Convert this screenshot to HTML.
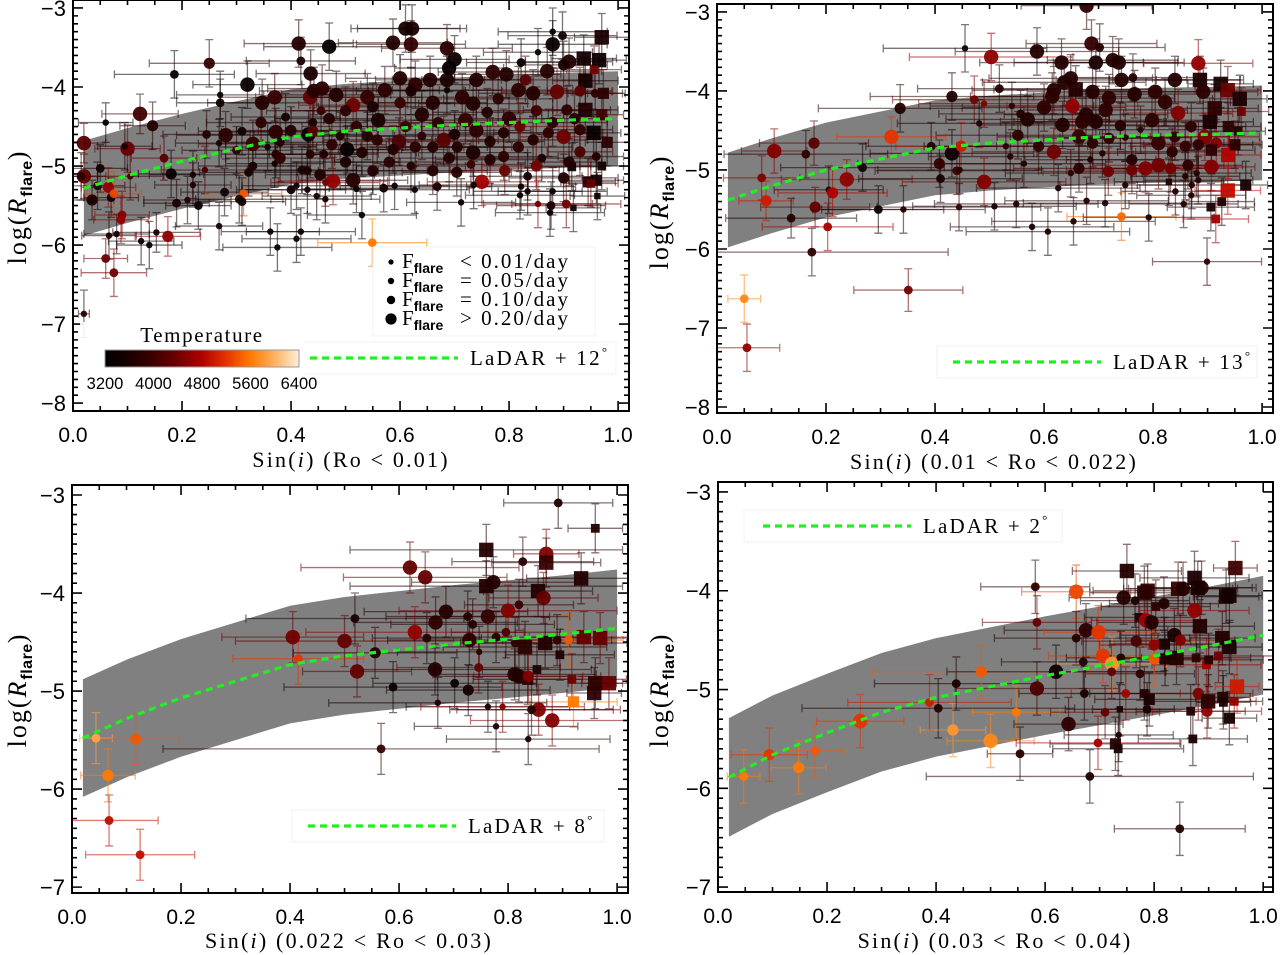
<!DOCTYPE html>
<html><head><meta charset="utf-8"><style>
html,body{margin:0;padding:0;background:#fff;}
svg{display:block;}
</style></head><body>
<svg id="fig" width="1280" height="955" viewBox="0 0 1280 955" xmlns="http://www.w3.org/2000/svg"></svg>
<script>
// ---------- DATA ----------
// point format: [sin_i, logR, x_err, y_err, Teff, sizeClass, isSquare]
const p1Pts = [
[0.02,-4.71,0.04,0.25,4200,3,0],[0.02,-5.13,0.04,0.28,4300,3,0],[0.015,-5.13,0.03,0.3,3800,1,0],[0.035,-5.43,0.04,0.25,3600,2,0],
[0.05,-5.03,0.05,0.3,3400,1,0],[0.06,-4.45,0.05,0.25,3300,0,0],[0.045,-5.25,0.05,0.3,3700,1,0],[0.065,-5.27,0.05,0.25,4600,2,0],
[0.07,-5.4,0.05,0.25,3500,1,0],[0.075,-5.35,0.05,0.28,5300,1,0],[0.066,-5.88,0.05,0.3,3600,0,0],[0.08,-5.86,0.06,0.25,3500,0,0],
[0.06,-6.17,0.04,0.25,4300,1,0],[0.075,-6.35,0.06,0.3,4400,1,0],[0.02,-6.87,0.01,0.3,3700,0,0],[0.09,-5.62,0.05,0.3,4500,1,0],
[0.088,-5.68,0.05,0.3,4600,1,0],[0.1,-4.78,0.06,0.3,4300,3,0],[0.095,-4.75,0.05,0.3,3500,0,0],[0.105,-5.13,0.06,0.3,4000,0,0],
[0.123,-4.34,0.07,0.25,4000,3,0],[0.125,-5.95,0.06,0.3,3400,0,0],[0.14,-6.0,0.06,0.3,3300,0,0],[0.146,-4.49,0.06,0.3,3700,2,0],
[0.153,-5.84,0.08,0.25,3500,0,0],[0.167,-4.9,0.06,0.28,4200,1,0],[0.174,-5.89,0.06,0.25,4600,2,0],[0.18,-5.1,0.06,0.3,3300,2,0],
[0.186,-3.84,0.11,0.3,3300,1,0],[0.19,-5.47,0.06,0.3,3600,1,0],[0.21,-5.43,0.08,0.3,3700,0,0],[0.22,-5.11,0.08,0.3,3500,0,0],
[0.22,-5.24,0.07,0.28,3700,0,0],[0.23,-5.5,0.06,0.3,3400,1,0],[0.242,-5.05,0.08,0.3,4100,0,0],[0.25,-3.7,0.11,0.3,3900,2,0],
[0.245,-4.6,0.08,0.3,3700,1,0],[0.268,-5.76,0.08,0.3,3500,0,0],[0.27,-4.2,0.08,0.3,3400,1,0],[0.27,-4.1,0.08,0.3,3400,0,0],
[0.278,-5.33,0.08,0.3,3500,1,0],[0.28,-4.61,0.09,0.3,3800,3,0],[0.268,-4.71,0.08,0.3,3600,0,0],[0.31,-4.56,0.08,0.3,3500,1,0],
[0.32,-3.97,0.1,0.3,3300,3,0],[0.313,-5.35,0.07,0.28,5400,1,0],[0.305,-5.42,0.08,0.3,3600,1,0],[0.31,-5.45,0.08,0.3,3500,1,0],
[0.322,-5.08,0.09,0.3,3500,1,0],[0.33,-4.72,0.1,0.3,3900,3,0],[0.347,-4.2,0.1,0.3,3700,3,0],[0.357,-4.76,0.09,0.3,3400,0,0],
[0.362,-5.83,0.09,0.3,3400,0,0],[0.37,-4.97,0.09,0.3,3400,0,0],[0.375,-6.03,0.1,0.3,3300,0,0],[0.37,-4.13,0.1,0.3,3900,3,0],
[0.372,-4.57,0.1,0.3,3800,3,0],[0.372,-4.85,0.1,0.3,3700,1,0],[0.38,-4.7,0.1,0.3,3600,1,0],[0.39,-4.38,0.1,0.3,3500,1,0],
[0.414,-3.45,0.1,0.3,3700,3,0],[0.418,-3.67,0.1,0.3,3600,1,0],[0.436,-3.83,0.1,0.3,3600,3,0],[0.435,-4.13,0.1,0.3,4300,3,0],
[0.4,-5.3,0.1,0.3,3400,1,0],[0.41,-5.92,0.1,0.3,3300,0,0],[0.418,-5.83,0.1,0.3,3300,0,0],[0.41,-5.25,0.1,0.3,3500,0,0],
[0.42,-5.05,0.1,0.3,3600,1,0],[0.432,-4.6,0.1,0.3,3300,3,0],[0.435,-4.85,0.1,0.3,3700,1,0],[0.44,-4.45,0.1,0.3,3600,1,0],
[0.442,-4.05,0.1,0.3,3700,3,0],[0.447,-5.38,0.1,0.3,3500,0,0],
[0.622,-3.26,0.1,0.3,3500,3,0],[0.61,-3.26,0.1,0.3,3500,3,0],[0.47,-3.49,0.12,0.3,3300,3,0],[0.587,-3.44,0.1,0.3,3700,3,0],
[0.62,-3.46,0.1,0.3,3900,3,0],[0.686,-3.51,0.12,0.3,3800,3,0],[0.7,-3.65,0.1,0.3,3400,3,0],[0.69,-3.76,0.1,0.3,3300,3,0],
[0.88,-3.3,0.1,0.3,3300,0,0],[0.898,-3.35,0.1,0.3,3400,1,0],[0.88,-3.46,0.1,0.3,3300,3,0],[0.853,-3.56,0.1,0.3,3300,0,0],
[0.822,-3.69,0.1,0.3,3300,1,0],[0.97,-3.37,0.05,0.3,3600,3,1],[0.937,-3.64,0.06,0.3,3500,3,1],[0.965,-3.66,0.05,0.3,3400,3,1],
[0.94,-3.92,0.06,0.3,3500,3,1],[0.956,-3.78,0.05,0.3,4400,1,1],[0.91,-3.68,0.08,0.3,3700,3,0],[0.9,-3.72,0.08,0.3,3600,2,0],
[0.87,-3.8,0.1,0.3,3700,3,0],[0.83,-3.91,0.1,0.3,4200,2,0],[0.795,-3.84,0.1,0.3,3700,3,0],[0.77,-3.81,0.1,0.3,3800,3,0],
[0.74,-3.91,0.1,0.3,3700,3,0],[0.686,-3.91,0.1,0.3,3600,3,0],[0.655,-3.91,0.1,0.3,3700,3,0],[0.628,-3.97,0.1,0.3,3800,3,0],
[0.6,-3.89,0.1,0.3,3700,3,0],[0.572,-4.04,0.1,0.3,3800,3,0],[0.54,-4.13,0.1,0.3,3900,3,0],[0.514,-4.23,0.1,0.3,4400,3,0],
[0.483,-4.1,0.1,0.3,3700,3,0],[0.457,-4.02,0.1,0.3,3800,3,0],[0.714,-4.13,0.1,0.3,3800,3,0],[0.734,-4.21,0.1,0.3,3700,3,0],
[0.686,-4.04,0.1,0.3,3400,0,0],[0.817,-4.04,0.1,0.3,3800,3,0],[0.844,-4.08,0.1,0.3,3700,3,0],[0.888,-4.06,0.1,0.3,4300,3,0],
[0.958,-4.08,0.05,0.3,3800,1,0],[0.973,-4.08,0.04,0.3,3800,2,1],[0.94,-4.29,0.06,0.3,3700,3,1],[0.906,-4.29,0.08,0.3,3800,2,0],
[0.955,-4.58,0.05,0.3,3300,3,1],[0.93,-4.54,0.06,0.3,3800,2,0],[0.9,-4.63,0.08,0.3,4400,3,0],[0.872,-4.58,0.1,0.3,3800,2,0],
[0.844,-4.67,0.1,0.3,3700,2,0],[0.817,-4.76,0.1,0.3,3800,2,0],[0.79,-4.58,0.1,0.3,3700,2,0],[0.765,-4.69,0.1,0.3,3700,2,0],
[0.734,-4.83,0.1,0.3,3600,3,0],[0.705,-4.76,0.1,0.3,3700,2,0],[0.68,-4.67,0.1,0.3,4200,3,0],[0.66,-4.76,0.1,0.3,3700,2,0],
[0.628,-4.76,0.1,0.3,3800,2,0],[0.598,-4.69,0.1,0.3,4100,3,0],[0.587,-4.79,0.1,0.3,3700,2,0],[0.558,-4.67,0.1,0.3,3800,2,0],
[0.53,-4.83,0.1,0.3,3700,2,0],[0.503,-4.79,0.1,0.3,3300,3,0],[0.475,-4.73,0.1,0.3,3800,2,0],[0.44,-4.56,0.1,0.3,4200,2,0],
[0.46,-4.85,0.1,0.3,3700,1,0],[0.514,-5.18,0.1,0.3,3700,3,0],[0.477,-5.19,0.1,0.3,4600,3,0],[0.453,-5.11,0.1,0.3,3700,2,0],
[0.43,-5.06,0.1,0.3,3600,1,0],[0.55,-5.06,0.1,0.3,3700,2,0],[0.57,-5.28,0.1,0.3,3500,1,0],[0.59,-5.25,0.1,0.3,3400,0,0],
[0.627,-5.3,0.1,0.3,3400,0,0],[0.66,-5.06,0.1,0.3,3700,2,0],[0.704,-5.08,0.1,0.3,3700,2,0],[0.75,-5.2,0.1,0.3,4700,3,0],
[0.735,-5.24,0.1,0.3,3400,0,0],[0.765,-4.92,0.1,0.3,3700,2,0],[0.792,-5.06,0.1,0.3,4300,2,0],[0.822,-5.26,0.1,0.3,3400,0,0],
[0.834,-5.32,0.1,0.3,3400,0,0],[0.834,-5.13,0.1,0.3,3600,1,0],[0.88,-5.32,0.1,0.3,3300,0,0],[0.9,-5.15,0.1,0.3,3700,2,0],
[0.915,-5.01,0.06,0.3,3400,1,1],[0.945,-5.2,0.05,0.3,3700,2,1],[0.96,-5.18,0.05,0.3,3500,2,1],[0.95,-5.22,0.05,0.3,4300,1,1],
[0.918,-5.53,0.05,0.3,3500,0,1],[0.962,-5.38,0.05,0.3,3500,0,1],[0.875,-5.59,0.1,0.3,3300,0,0],[0.853,-5.48,0.1,0.3,4400,0,0],
[0.905,-5.48,0.1,0.3,4400,1,0],[0.82,-5.37,0.1,0.3,3400,0,0],[0.712,-5.46,0.1,0.3,3300,0,0],[0.668,-5.26,0.1,0.3,3600,1,0],
[0.62,-5.0,0.1,0.3,3700,1,0],[0.52,-5.29,0.1,0.3,3300,0,0],[0.53,-5.62,0.1,0.3,3300,0,0],[0.463,-5.42,0.1,0.3,3400,0,0],
[0.463,-5.21,0.1,0.3,4400,0,0],[0.549,-5.97,0.1,0.3,5600,1,0],[0.877,-5.5,0.1,0.3,3600,1,0],[0.43,-5.3,0.12,0.3,3500,0,0],
[0.52,-4.5,0.1,0.3,3800,2,0],[0.56,-4.42,0.1,0.3,3600,3,0],[0.61,-4.5,0.1,0.3,3900,2,0],[0.64,-4.35,0.1,0.3,3700,3,0],
[0.67,-4.45,0.1,0.3,3800,2,0],[0.72,-4.42,0.1,0.3,3900,3,0],[0.76,-4.32,0.1,0.3,3700,2,0],[0.8,-4.4,0.1,0.3,3800,3,0],
[0.85,-4.3,0.1,0.3,4000,2,0],[0.88,-4.45,0.1,0.3,3800,2,0],[0.92,-4.4,0.06,0.3,3700,2,0],[0.97,-4.35,0.04,0.3,4000,2,1],
[0.98,-4.7,0.04,0.3,3800,2,1],[0.96,-4.88,0.05,0.3,3700,1,0],[0.93,-4.82,0.06,0.3,4100,2,0],[0.86,-4.9,0.1,0.3,3600,1,0],
[0.79,-4.88,0.1,0.3,3800,2,0],[0.73,-4.98,0.1,0.3,4000,1,0],[0.69,-4.9,0.1,0.3,3700,2,0],[0.58,-4.95,0.1,0.3,3800,2,0],
[0.5,-4.95,0.1,0.3,3600,2,0],[0.47,-4.4,0.1,0.3,3700,2,0],[0.5,-4.3,0.1,0.3,3800,2,0],[0.55,-4.25,0.1,0.3,3600,2,0],
[0.6,-4.2,0.1,0.3,3900,2,0],[0.66,-4.2,0.1,0.3,3700,3,0],[0.78,-4.15,0.1,0.3,3800,2,0],[0.82,-4.5,0.1,0.3,4300,2,0],
[0.7,-4.6,0.1,0.3,3600,2,0],[0.64,-4.62,0.1,0.3,3800,1,0],[0.54,-4.62,0.1,0.3,3700,2,0],[0.49,-4.62,0.1,0.3,3700,1,0],
[0.455,-4.3,0.1,0.3,3900,1,0],[0.4,-4.55,0.1,0.3,3700,2,0],[0.38,-4.9,0.1,0.3,3800,2,0],[0.345,-4.45,0.1,0.3,3800,2,0],
[0.3,-4.8,0.1,0.3,3700,1,0],[0.33,-5.0,0.1,0.3,3600,1,0],[0.74,-4.55,0.1,0.3,3800,3,0],[0.91,-4.95,0.06,0.3,3700,2,0],
[0.85,-5.0,0.1,0.3,4400,2,0],[0.97,-5.0,0.04,0.3,3500,1,1],[0.62,-4.05,0.1,0.3,3600,2,0],[0.93,-4.05,0.06,0.3,4200,2,0]
];
const p2Pts = [
[0.05,-6.63,0.03,0.3,5700,1,0],[0.055,-7.25,0.06,0.3,4600,1,0],[0.082,-5.1,0.07,0.28,4500,1,0],[0.09,-5.39,0.05,0.25,5000,2,0],
[0.105,-4.76,0.06,0.28,4500,3,0],[0.163,-4.8,0.15,0.3,3800,1,0],[0.178,-4.66,0.1,0.28,4200,2,0],[0.136,-5.61,0.12,0.25,3700,1,0],
[0.174,-6.04,0.25,0.3,3800,1,0],[0.18,-5.47,0.1,0.25,4300,2,0],[0.205,-5.25,0.1,0.3,3600,0,0],[0.203,-5.72,0.12,0.3,4700,1,0],
[0.212,-5.29,0.1,0.3,4800,2,0],[0.238,-5.12,0.12,0.25,4600,3,0],[0.267,-4.97,0.15,0.3,3500,1,0],[0.296,-5.5,0.12,0.3,3400,1,0],
[0.32,-4.58,0.1,0.25,5200,3,0],[0.336,-4.22,0.15,0.3,3700,2,0],[0.342,-5.5,0.15,0.3,3700,0,0],[0.351,-6.52,0.1,0.27,4400,1,0],
[0.393,-4.7,0.12,0.3,3700,1,0],[0.408,-4.92,0.15,0.3,3900,2,0],[0.41,-5.11,0.15,0.3,3500,1,0],[0.431,-4.07,0.15,0.3,3700,2,0],
[0.431,-4.79,0.15,0.3,3400,3,0],[0.44,-5.01,0.15,0.3,4000,1,0],[0.444,-5.47,0.15,0.3,3900,0,0],[0.448,-4.7,0.12,0.3,5000,2,0],
[0.455,-3.46,0.15,0.3,3500,0,0],[0.503,-3.57,0.15,0.3,4600,3,0],[0.587,-3.5,0.15,0.3,3700,3,0],[0.678,-2.92,0.12,0.3,3800,3,0],
[0.687,-3.4,0.12,0.3,3900,3,0],[0.702,-3.45,0.12,0.3,3700,1,0],[0.632,-3.64,0.15,0.3,3700,3,0],[0.695,-3.64,0.15,0.3,3600,3,0],
[0.726,-3.61,0.12,0.3,3700,3,0],[0.737,-3.64,0.12,0.3,3700,3,0],[0.883,-3.65,0.1,0.3,4600,3,0],[0.518,-3.97,0.15,0.3,3700,1,0],
[0.472,-4.11,0.15,0.3,4400,1,0],[0.49,-4.16,0.12,0.3,4500,0,0],[0.541,-4.19,0.15,0.3,3800,0,0],[0.557,-4.29,0.15,0.3,3700,1,0],
[0.57,-4.36,0.15,0.3,3700,3,0],[0.6,-4.21,0.15,0.3,3800,3,0],[0.618,-3.99,0.15,0.3,3700,3,0],[0.615,-4.07,0.15,0.3,3800,3,0],
[0.637,-3.89,0.15,0.3,3700,3,0],[0.649,-3.84,0.15,0.3,3700,3,0],[0.658,-3.98,0.15,0.3,3700,3,1],[0.652,-4.19,0.12,0.3,4600,3,0],
[0.689,-4.01,0.12,0.3,3700,3,0],[0.719,-4.09,0.12,0.3,3800,3,0],[0.742,-3.86,0.12,0.3,3700,3,0],[0.763,-3.83,0.12,0.3,3700,1,0],
[0.766,-4.04,0.12,0.3,3700,3,0],[0.804,-4.01,0.12,0.3,3800,3,0],[0.822,-4.14,0.12,0.3,3800,3,0],[0.84,-3.86,0.12,0.3,3700,3,0],
[0.886,-3.86,0.08,0.3,3600,3,1],[0.924,-3.91,0.06,0.3,3600,3,1],[0.937,-3.99,0.06,0.3,4400,3,1],[0.959,-4.1,0.05,0.3,3600,3,1],
[0.846,-4.28,0.1,0.3,4500,3,0],[0.892,-4.01,0.1,0.3,3800,3,0],[0.904,-4.39,0.08,0.3,3600,3,1],[0.913,-4.22,0.08,0.3,3800,3,1],
[0.962,-4.26,0.05,0.3,4400,1,1],[0.938,-4.45,0.06,0.3,3800,2,1],[0.956,-4.51,0.05,0.3,3700,1,1],[0.677,-4.3,0.15,0.3,3700,3,0],
[0.67,-4.39,0.15,0.3,3800,3,0],[0.695,-4.39,0.15,0.3,3700,3,0],[0.713,-4.24,0.15,0.3,3800,3,0],[0.634,-4.43,0.15,0.3,3700,3,0],
[0.664,-4.58,0.15,0.3,3900,3,0],[0.689,-4.66,0.12,0.3,3800,2,0],[0.719,-4.6,0.12,0.3,3800,2,0],[0.74,-4.44,0.12,0.3,3700,2,0],
[0.749,-4.59,0.12,0.3,3700,0,0],[0.777,-4.49,0.12,0.3,3800,0,0],[0.798,-4.37,0.12,0.3,3800,3,0],[0.81,-4.66,0.12,0.3,3900,3,0],
[0.84,-4.58,0.1,0.3,3800,2,0],[0.87,-4.45,0.1,0.3,3800,2,0],[0.895,-4.58,0.1,0.3,4500,3,0],[0.916,-4.66,0.08,0.3,4500,2,0],
[0.938,-4.81,0.06,0.3,4800,3,1],[0.95,-4.68,0.05,0.3,3800,2,1],[0.907,-4.75,0.08,0.3,3800,2,1],[0.883,-4.68,0.1,0.3,3800,2,0],
[0.859,-4.7,0.1,0.3,3900,2,0],[0.835,-4.77,0.1,0.3,3800,2,0],[0.81,-4.94,0.12,0.3,4400,3,0],[0.832,-4.98,0.12,0.3,4400,2,0],
[0.864,-4.94,0.1,0.3,3800,2,0],[0.88,-5.04,0.1,0.3,3700,0,0],[0.907,-4.96,0.08,0.3,4500,3,0],[0.761,-4.87,0.12,0.3,3700,2,0],
[0.786,-4.98,0.12,0.3,4500,3,0],[0.761,-5.0,0.12,0.3,4400,2,0],[0.718,-5.02,0.12,0.3,4400,2,0],[0.707,-4.79,0.12,0.3,3700,0,0],
[0.685,-4.87,0.12,0.3,3700,0,0],[0.664,-4.98,0.12,0.3,3800,2,0],[0.649,-5.04,0.12,0.3,3800,0,0],[0.618,-4.77,0.15,0.3,4400,3,0],
[0.59,-4.7,0.15,0.3,3800,2,0],[0.563,-4.92,0.15,0.3,3700,0,0],[0.552,-4.56,0.15,0.3,3800,2,0],[0.538,-4.83,0.15,0.3,3700,0,0],
[0.53,-4.7,0.15,0.3,3700,0,0],[0.481,-4.41,0.15,0.3,3700,0,0],[0.445,-5.0,0.15,0.3,3700,0,0],[0.49,-5.15,0.15,0.3,4500,3,0],
[0.509,-5.46,0.15,0.3,3600,0,0],[0.549,-5.43,0.15,0.3,3600,0,0],[0.626,-5.23,0.15,0.3,3600,0,0],[0.578,-5.72,0.15,0.3,3600,0,0],
[0.607,-5.78,0.15,0.3,3600,0,0],[0.654,-5.65,0.15,0.3,3700,0,0],[0.678,-5.39,0.15,0.3,3700,0,0],[0.712,-5.42,0.15,0.3,3600,0,0],
[0.742,-5.59,0.1,0.3,5500,1,0],[0.792,-5.6,0.12,0.3,3600,0,0],[0.749,-5.19,0.12,0.3,3700,0,0],[0.829,-5.15,0.1,0.3,3600,0,1],
[0.859,-5.08,0.1,0.3,3700,0,0],[0.871,-5.19,0.1,0.3,3700,0,0],[0.883,-5.13,0.1,0.3,3700,0,0],[0.841,-5.27,0.1,0.3,3700,0,0],
[0.856,-5.43,0.1,0.3,3700,0,0],[0.87,-5.32,0.1,0.3,3700,0,0],[0.906,-5.47,0.08,0.3,3600,1,1],[0.926,-5.4,0.06,0.3,3600,1,1],
[0.915,-5.62,0.06,0.3,4700,1,1],[0.937,-5.26,0.06,0.3,4900,3,1],[0.97,-5.19,0.04,0.3,3500,2,1],[0.899,-6.16,0.1,0.3,3800,0,0]
];
const p3Pts = [
[0.044,-5.48,0.03,0.26,5900,1,0],[0.066,-5.86,0.05,0.27,5600,2,0],[0.117,-5.49,0.08,0.26,5400,2,0],[0.068,-6.32,0.09,0.26,4900,1,0],
[0.125,-6.67,0.1,0.26,4900,1,0],[0.405,-4.45,0.13,0.26,4400,3,0],[0.415,-4.67,0.12,0.26,5200,1,0],[0.892,-3.08,0.1,0.26,3600,1,0],
[0.96,-3.34,0.05,0.25,3700,1,1],[0.76,-3.56,0.25,0.26,3700,3,1],[0.87,-3.6,0.06,0.25,4500,3,0],[0.87,-3.69,0.1,0.25,3900,3,1],
[0.827,-3.68,0.13,0.25,3800,1,0],[0.62,-3.74,0.2,0.26,4300,3,0],[0.648,-3.84,0.15,0.26,4300,3,0],[0.76,-3.93,0.25,0.26,3700,3,1],
[0.773,-3.89,0.15,0.26,3700,3,0],[0.855,-3.98,0.1,0.26,3700,3,1],[0.865,-4.05,0.1,0.26,4300,3,0],[0.934,-3.85,0.1,0.26,3700,3,1],
[0.82,-4.12,0.1,0.26,3900,1,0],[0.8,-4.18,0.2,0.26,4500,3,0],[0.686,-4.19,0.15,0.26,3700,3,0],[0.667,-4.3,0.15,0.26,3800,3,0],
[0.726,-4.24,0.15,0.26,3700,1,0],[0.735,-4.32,0.15,0.26,3700,1,0],[0.763,-4.24,0.15,0.26,3900,3,0],[0.519,-4.26,0.2,0.26,3600,1,0],
[0.629,-4.4,0.2,0.26,4600,3,0],[0.651,-4.46,0.1,0.26,3700,1,0],[0.5,-4.49,0.2,0.26,4300,3,0],[0.729,-4.48,0.15,0.26,3800,3,0],
[0.778,-4.45,0.15,0.26,3700,1,0],[0.796,-4.4,0.1,0.26,4100,1,0],[0.813,-4.51,0.1,0.26,3800,1,0],[0.831,-4.55,0.15,0.26,3800,3,1],
[0.868,-4.51,0.15,0.26,3700,3,1],[0.89,-4.48,0.1,0.26,3800,1,0],[0.911,-4.48,0.1,0.26,5400,1,0],[0.939,-4.45,0.1,0.26,4300,3,1],
[0.969,-4.46,0.05,0.26,4300,3,1],[0.556,-4.61,0.15,0.26,3700,2,0],[0.747,-4.6,0.15,0.26,3700,0,0],[0.895,-4.63,0.1,0.26,3700,1,1],
[0.523,-4.8,0.1,0.26,4300,3,0],[0.666,-4.78,0.15,0.26,3700,3,0],[0.746,-4.76,0.15,0.26,4300,1,0],[0.853,-4.78,0.1,0.26,3700,1,1],
[0.812,-4.83,0.15,0.26,3700,3,0],[0.82,-4.85,0.15,0.26,3700,3,0],[0.836,-4.88,0.1,0.26,3800,2,1],[0.702,-4.92,0.15,0.26,3400,1,0],
[0.727,-4.99,0.15,0.26,3500,2,0],[0.589,-4.96,0.2,0.26,3400,1,0],[0.837,-4.85,0.1,0.26,4500,2,0],[0.917,-4.88,0.1,0.26,4400,1,1],
[0.96,-4.92,0.05,0.26,3800,3,1],[0.985,-4.92,0.05,0.26,4300,3,1],[0.958,-5.02,0.05,0.26,3800,3,1],[0.92,-5.11,0.08,0.26,5600,2,1],
[0.856,-5.19,0.15,0.26,4500,3,0],[0.881,-5.3,0.15,0.26,4500,3,0],[0.671,-5.12,0.2,0.26,3600,0,0],[0.763,-5.16,0.15,0.26,3600,0,0],
[0.79,-5.16,0.15,0.26,4500,0,0],[0.843,-5.19,0.15,0.26,3700,1,0],[0.778,-5.36,0.15,0.26,3600,0,0],[0.837,-5.49,0.15,0.26,3600,0,0],
[0.567,-5.59,0.4,0.26,3900,1,0]
];
const p4Pts = [
[0.047,-5.88,0.03,0.27,5600,1,0],[0.094,-5.66,0.07,0.27,5200,2,0],[0.148,-5.79,0.05,0.27,5600,2,0],[0.178,-5.62,0.05,0.27,5400,1,0],
[0.261,-5.32,0.08,0.27,5200,3,0],[0.388,-5.13,0.15,0.28,5000,1,0],[0.404,-5.19,0.25,0.3,3700,1,0],[0.431,-5.41,0.06,0.27,5800,2,0],
[0.437,-4.94,0.15,0.27,3600,1,0],[0.483,-4.82,0.2,0.27,5400,2,0],[0.5,-5.52,0.08,0.27,5700,3,0],[0.547,-5.23,0.08,0.27,5600,1,0],
[0.554,-5.65,0.06,0.27,3700,1,0],[0.582,-3.96,0.1,0.27,3800,1,0],[0.585,-4.32,0.1,0.27,4300,1,0],[0.585,-4.99,0.15,0.27,4100,3,0],
[0.62,-4.82,0.2,0.27,3400,3,0],[0.643,-5.35,0.1,0.27,3800,3,0],[0.657,-4.01,0.1,0.27,5300,3,0],[0.657,-4.48,0.15,0.27,3700,1,0],
[0.675,-4.4,0.15,0.27,3800,3,0],[0.67,-4.72,0.15,0.27,3700,1,0],[0.672,-5.04,0.12,0.27,3600,1,0],[0.682,-5.88,0.3,0.27,3600,1,0],
[0.697,-5.54,0.15,0.27,4700,1,0],[0.698,-4.42,0.1,0.27,5200,3,0],[0.706,-4.66,0.1,0.27,5200,3,0],[0.71,-5.23,0.1,0.27,4300,1,0],
[0.723,-4.74,0.1,0.27,5800,3,0],[0.722,-4.82,0.1,0.27,4300,1,0],[0.729,-5.55,0.12,0.27,3700,2,1],[0.734,-5.6,0.12,0.27,3600,1,1],
[0.735,-5.46,0.1,0.27,3600,0,0],[0.737,-5.2,0.1,0.27,3600,0,1],[0.739,-4.68,0.1,0.27,3700,1,0],[0.744,-4.07,0.1,0.27,3700,3,0],
[0.748,-5.04,0.1,0.27,4700,1,0],[0.75,-3.8,0.1,0.27,3700,3,1],[0.765,-4.1,0.1,0.27,3600,1,0],[0.767,-4.51,0.1,0.27,4100,2,0],
[0.772,-4.27,0.1,0.27,3700,1,1],[0.774,-4.84,0.1,0.27,3800,1,0],[0.782,-4.02,0.1,0.27,3800,3,1],[0.782,-5.04,0.1,0.27,3700,1,1],
[0.785,-4.3,0.1,0.27,4700,3,0],[0.787,-5.2,0.1,0.27,3600,1,0],[0.788,-4.0,0.1,0.27,3800,3,1],[0.791,-5.1,0.1,0.27,3600,2,1],
[0.795,-4.32,0.1,0.27,3700,3,0],[0.8,-4.55,0.1,0.27,4600,2,0],[0.8,-4.69,0.1,0.27,5400,2,0],[0.803,-4.16,0.1,0.27,3800,1,1],
[0.818,-4.13,0.1,0.27,3700,2,0],[0.819,-4.54,0.1,0.27,3600,2,1],[0.82,-4.69,0.1,0.27,3600,2,1],[0.837,-4.45,0.1,0.27,3600,3,0],
[0.841,-4.68,0.1,0.27,3700,3,1],[0.844,-3.98,0.1,0.27,3900,3,1],[0.848,-4.5,0.1,0.27,4500,2,0],[0.853,-3.98,0.1,0.27,3700,3,0],
[0.847,-6.41,0.12,0.27,3700,1,0],[0.867,-5.22,0.1,0.27,3700,1,1],[0.871,-5.5,0.1,0.27,3600,1,1],[0.874,-4.2,0.1,0.27,4600,3,0],
[0.874,-3.87,0.1,0.27,3600,3,1],[0.877,-4.68,0.1,0.27,3800,1,1],[0.881,-5.04,0.1,0.27,4500,2,0],[0.884,-4.36,0.1,0.27,3700,3,1],
[0.887,-3.97,0.1,0.27,3700,3,0],[0.88,-3.97,0.1,0.27,3600,3,1],[0.896,-4.75,0.1,0.27,4700,1,1],[0.897,-5.22,0.1,0.27,4600,2,0],
[0.899,-5.12,0.1,0.27,3800,3,1],[0.9,-4.7,0.1,0.27,3700,1,1],[0.918,-4.66,0.1,0.27,4400,1,1],[0.925,-4.48,0.06,0.27,3700,3,1],
[0.938,-4.57,0.06,0.27,3600,3,1],[0.932,-4.06,0.06,0.27,3600,3,1],[0.938,-4.05,0.06,0.27,3500,3,1],[0.926,-5.08,0.05,0.27,3700,2,1],
[0.927,-5.13,0.05,0.27,3600,1,1],[0.938,-5.29,0.05,0.27,3500,2,1],[0.949,-3.77,0.04,0.27,4000,3,1],[0.952,-4.97,0.04,0.27,5000,3,1],
[0.947,-5.12,0.04,0.27,4600,1,1]
];
const curveX = [0.02,0.1,0.2,0.3,0.4,0.5,0.6,0.7,0.8,0.9,1.0];
const p1Curve = [-5.28,-5.12,-4.94,-4.78,-4.63,-4.56,-4.52,-4.48,-4.45,-4.42,-4.40];
const p2Curve = [-5.38,-5.2,-5.0,-4.86,-4.72,-4.66,-4.62,-4.58,-4.56,-4.55,-4.53];
const p3Curve = [-5.48,-5.28,-5.07,-4.9,-4.73,-4.64,-4.58,-4.52,-4.47,-4.42,-4.36];
const p4Curve = [-5.89,-5.66,-5.44,-5.23,-5.08,-4.97,-4.86,-4.76,-4.66,-4.56,-4.45];
const bandHalf = [0.6,0.6,0.6,0.6];
const ladarLabels = ["12","13","8","2"];
const xTicks = [0,0.2,0.4,0.6,0.8,1.0];
const xTickLabels = ["0.0","0.2","0.4","0.6","0.8","1.0"];
const yTicksTop = [-3,-4,-5,-6,-7,-8];
const yTicksBottom = [-3,-4,-5,-6,-7];
const cbTicks = [3200,4000,4800,5600,6400];
const legendRates = ["<  0.01/day","=  0.05/day","=  0.10/day",">  0.20/day"];

// ---------- RENDER ----------
const NS = "http://www.w3.org/2000/svg";
const svg = document.getElementById('fig');
function el(tag, attrs, parent){ const e=document.createElementNS(NS,tag); for(const k in attrs) e.setAttribute(k,attrs[k]); (parent||svg).appendChild(e); return e; }

const cmapT = [3200,3600,4000,4400,4800,5200,5600,6000,6400];
const cmapC = [[0,0,0],[26,0,0],[62,0,0],[112,0,0],[178,0,0],[228,52,0],[255,122,0],[255,178,96],[255,238,220]];
function tcol(T){
  if(T<=cmapT[0]) return 'rgb(0,0,0)';
  for(let i=1;i<cmapT.length;i++){ if(T<=cmapT[i]){ const f=(T-cmapT[i-1])/(cmapT[i]-cmapT[i-1]); const a=cmapC[i-1],b=cmapC[i];
    return 'rgb('+a.map((v,j)=>Math.round(v+(b[j]-v)*f)).join(',')+')'; } }
  return 'rgb(255,238,220)';
}
const sizeR = [3.2,4.4,5.6,7.2];
const SERIF = 'Liberation Serif, serif';
const SANS = 'Liberation Sans, sans-serif';

const panels = [
 {id:'p1', l:73,t:0,r:629,b:411, xmax:1.02, ymin:-8.1, ymax:-2.899, pts:p1Pts, curve:p1Curve, half:bandHalf[0], yt:yTicksTop, xl:'(Ro < 0.01)', xlx:351, xly:467, ylx:26, yly:207, lad:ladarLabels[0], ladY:358, ladX:310, ladBox:[300,342,316,32]},
 {id:'p2', l:717,t:4,r:1273,b:413, xmax:1.02, ymin:-8.076, ymax:-2.899, pts:p2Pts, curve:p2Curve, half:bandHalf[1], yt:yTicksTop, xl:'(0.01 < Ro < 0.022)', xlx:994, xly:469, ylx:668, yly:212, lad:ladarLabels[1], ladY:362, ladX:953, ladBox:[937,346,320,32]},
 {id:'p3', l:72,t:485,r:628,b:893, xmax:1.02, ymin:-7.06, ymax:-2.898, pts:p3Pts, curve:p3Curve, half:bandHalf[2], yt:yTicksBottom, xl:'(0.022 < Ro < 0.03)', xlx:349, xly:948, ylx:26, yly:690, lad:ladarLabels[2], ladY:826, ladX:308, ladBox:[292,810,312,32]},
 {id:'p4', l:718,t:482,r:1273,b:892, xmax:1.018, ymin:-7.05, ymax:-2.899, pts:p4Pts, curve:p4Curve, half:bandHalf[3], yt:yTicksBottom, xl:'(0.03 < Ro < 0.04)', xlx:995, xly:948, ylx:668, yly:690, lad:ladarLabels[3], ladY:526, ladX:763, ladBox:[744,510,318,32]}
];

panels.forEach((P,pi)=>{
  const sx = v => P.l + (v/P.xmax)*(P.r-P.l);
  const sy = v => P.b - (v-P.ymin)/(P.ymax-P.ymin)*(P.b-P.t);
  const g = el('g',{});
  
  
  const cp = el('clipPath',{id:'clip'+pi}, g);
  el('rect',{x:P.l,y:P.t,width:P.r-P.l,height:P.b-P.t}, cp);
  const inner = el('g',{'clip-path':'url(#clip'+pi+')'}, g);
  let pts=[];
  curveX.forEach((x,i)=>pts.push(sx(x)+','+sy(P.curve[i]+P.half)));
  for(let i=curveX.length-1;i>=0;i--) pts.push(sx(curveX[i])+','+sy(P.curve[i]-P.half));
  const band = el('polygon',{points:pts.join(' '),fill:'#808080'}, inner);
  
  
  const eg = el('g',{}, inner);
  
  
  P.pts.forEach(p=>{
    const c=tcol(p[4]); const x=sx(p[0]), y=sy(p[1]);
    const x1=sx(p[0]-p[2]), x2=sx(p[0]+p[2]), y1=sy(p[1]-p[3]), y2=sy(p[1]+p[3]);
    const d='M'+x1+' '+y+'H'+x2+'M'+x+' '+y1+'V'+y2+'M'+x1+' '+(y-4)+'V'+(y+4)+'M'+x2+' '+(y-4)+'V'+(y+4)+'M'+(x-4)+' '+y1+'H'+(x+4)+'M'+(x-4)+' '+y2+'H'+(x+4);
    el('path',{d:d,stroke:c,'stroke-width':1.3,'stroke-opacity':0.55,fill:'none'}, eg);
  });
  const mg = el('g',{}, inner);
  
  
  P.pts.forEach(p=>{
    const c=tcol(p[4]); const x=sx(p[0]), y=sy(p[1]); const r=sizeR[p[5]];
    let m;
    if(p[6]) m=el('rect',{x:x-r,y:y-r,width:2*r,height:2*r,fill:c,'fill-opacity':0.95}, mg);
    else m=el('circle',{cx:x,cy:y,r:r,fill:c,'fill-opacity':0.95}, mg);
    
    
  });
  const ln = el('polyline',{points:curveX.map((x,i)=>sx(x)+','+sy(P.curve[i])).join(' '),fill:'none',stroke:'#22ee22','stroke-width':3.2,'stroke-dasharray':'7 5'}, inner);
  
  
  const lg = el('g',{}, g);
  
  
  el('rect',{x:P.ladBox[0],y:P.ladBox[1],width:P.ladBox[2],height:P.ladBox[3],fill:'#fff','fill-opacity':0.92,stroke:'#eef3f3','stroke-width':1}, lg);
  el('line',{x1:P.ladX,y1:P.ladY,x2:P.ladX+148,y2:P.ladY,stroke:'#22ee22','stroke-width':3.2,'stroke-dasharray':'7 5'}, lg);
  const lt = el('text',{x:P.ladX+160,y:P.ladY+7,'font-family':SERIF,'font-size':21,'letter-spacing':2.2,fill:'#000'}, lg);
  lt.textContent='LaDAR + '+P.lad;
  const sup = el('tspan',{dy:-9,'font-size':13}, lt); sup.textContent='°';
  const fr = el('rect',{x:P.l,y:P.t,width:P.r-P.l,height:P.b-P.t,fill:'none',stroke:'#000','stroke-width':2}, g);
  
  
  let td='';
  for(let k=0;k<=20;k++){ const v=k*0.05; const x=sx(v); const L=(k%4===0)?10:5; td+='M'+x+' '+P.b+'v'+(-L)+'M'+x+' '+P.t+'v'+L; }
  const yTop=Math.floor(P.ymax*10), yBot=Math.ceil(P.ymin*10);
  for(let k=yBot;k<=yTop;k++){ const y=sy(k/10); const L=(k%10===0)?10:5; td+='M'+P.l+' '+y+'h'+L+'M'+P.r+' '+y+'h'+(-L); }
  el('path',{d:td,stroke:'#000','stroke-width':1.6,fill:'none'}, g);
  const xg = el('g',{}, g);
  
  
  xTicks.forEach((v,i)=>{ const t=el('text',{x:sx(v),y:P.b+31,'text-anchor':'middle','font-family':SANS,'font-size':21,fill:'#000'}, xg); t.textContent=xTickLabels[i]; });
  const yg = el('g',{}, g);
  
  
  P.yt.forEach(v=>{ const t=el('text',{x:P.l-7,y:sy(v)+8,'text-anchor':'end','font-family':SANS,'font-size':22,fill:'#000'}, yg); t.textContent='\u2212'+Math.abs(v); });
  const xt = el('text',{x:P.xlx,y:P.xly,'text-anchor':'middle','font-family':SERIF,'font-size':22,'letter-spacing':2.2,fill:'#000'}, g);
  
  
  const a1=el('tspan',{},xt); a1.textContent='Sin(';
  const a2=el('tspan',{'font-style':'italic'},xt); a2.textContent='i';
  const a3=el('tspan',{},xt); a3.textContent=')  '+P.xl;
  const yt = el('text',{x:0,y:0,'text-anchor':'middle','font-family':SERIF,'font-size':26,'letter-spacing':2,fill:'#000',transform:'translate('+P.ylx+','+P.yly+') rotate(-90)'}, g);
  
  
  const b1=el('tspan',{},yt); b1.textContent='log(';
  const b2=el('tspan',{'font-style':'italic'},yt); b2.textContent='R';
  const b3=el('tspan',{dy:6,'font-size':16,'font-family':SANS,'font-weight':'bold','letter-spacing':0.5},yt); b3.textContent='flare';
  const b4=el('tspan',{dy:-6},yt); b4.textContent=')';
});

const fl = el('g',{});


el('rect',{x:373,y:247,width:222,height:89,fill:'#fff','fill-opacity':0.92,stroke:'#eef3f3'}, fl);
const legR=[2.6,3.2,4.2,5.6];
legendRates.forEach((s,i)=>{
  const y=262+i*19;
  el('circle',{cx:391,cy:y,r:legR[i],fill:'#000'}, fl);
  const t=el('text',{x:402,y:y+6,'font-family':SERIF,'font-size':21,fill:'#000'}, fl);
  const f=el('tspan',{},t); f.textContent='F';
  const sb=el('tspan',{dy:5,'font-size':14,'font-family':SANS,'font-weight':'bold'},t); sb.textContent='flare';
  const rest=el('tspan',{dy:-5,x:460,'letter-spacing':2},t); rest.textContent=s;
});
const cb = el('g',{});


const defs = el('defs',{}, cb);
const lgd = el('linearGradient',{id:'tgrad',x1:0,x2:1,y1:0,y2:0}, defs);
cmapT.forEach((T,i)=>el('stop',{offset:((T-3200)/3200),'stop-color':'rgb('+cmapC[i].join(',')+')'}, lgd));
el('rect',{x:80,y:322,width:225,height:72,fill:'#fff','fill-opacity':0.9}, cb);
el('rect',{x:105,y:350,width:194,height:17,fill:'url(#tgrad)',stroke:'#999','stroke-width':1}, cb);
const tt=el('text',{x:202,y:342,'text-anchor':'middle','font-family':SERIF,'font-size':21,'letter-spacing':1.6,fill:'#000'}, cb); tt.textContent='Temperature';
cbTicks.forEach(T=>{ const t=el('text',{x:105+(T-3200)/3200*194,y:389,'text-anchor':'middle','font-family':SANS,'font-size':16.5,fill:'#000'}, cb); t.textContent=T; });
</script>
</body></html>
